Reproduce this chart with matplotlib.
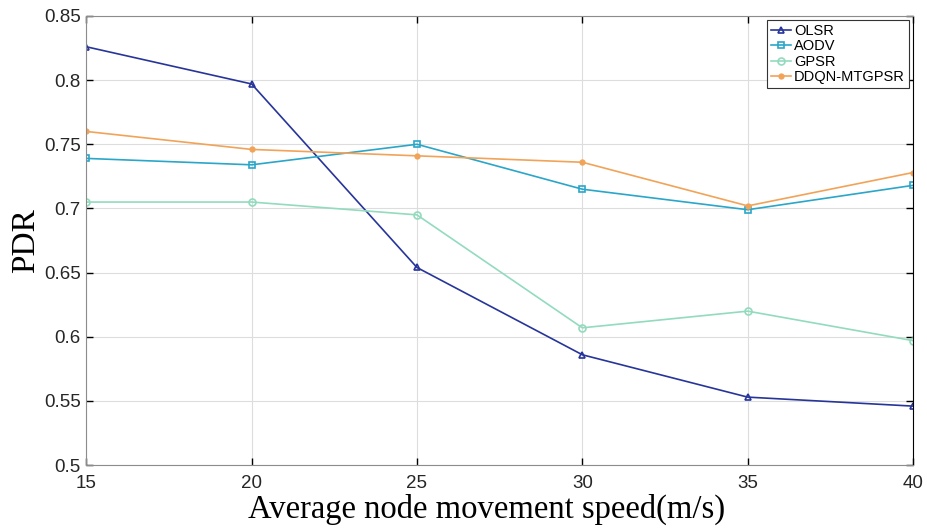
import numpy as np
import matplotlib.pyplot as plt

# PDR vs average node speed
speed = [15, 20, 25, 30, 35, 40]
olsr = [0.826, 0.797, 0.654, 0.586, 0.553, 0.546]
aodv = [0.739, 0.734, 0.750, 0.715, 0.699, 0.718]
gpsr = [0.705, 0.705, 0.695, 0.607, 0.620, 0.597]
ddqn = [0.760, 0.746, 0.741, 0.736, 0.702, 0.728]

plt.rcParams['font.family'] = ['Liberation Sans', 'DejaVu Sans']

fig = plt.figure(figsize=(9.27, 5.31), dpi=100)
ax = fig.add_axes([0.093, 0.124, 0.892, 0.846])

ax.plot(speed, olsr, '-^', color='#27359a', lw=1.2, ms=5, mfc='none', mew=1.2, label='OLSR')
ax.plot(speed, aodv, '-s', color='#2aa6c9', lw=1.2, ms=4.5, mfc='none', mew=1.2, label='AODV')
ax.plot(speed, gpsr, '-o', color='#92dbbe', lw=1.2, ms=5, mfc='none', mew=1.2, label='GPSR')
ax.plot(speed, ddqn, '-o', color='#f1a358', lw=1.2, ms=3.5, label='DDQN-MTGPSR')

ax.set_xlim(15, 40)
ax.set_ylim(0.5, 0.85)
ax.set_xticks(speed)
ax.set_yticks(np.arange(0.5, 0.851, 0.05))
ax.set_yticklabels(['0.5', '0.55', '0.6', '0.65', '0.7', '0.75', '0.8', '0.85'])
ax.grid(True, color='#dddddd', lw=0.8)
ax.set_axisbelow(True)
ax.tick_params(direction='in', top=True, right=True, labelsize=13.5,
               colors='black', labelcolor='#262626', length=5, width=1)
ax.tick_params(axis='y', pad=4)
ax.tick_params(axis='x', pad=7)
for s in ['left', 'bottom', 'top']:
    ax.spines[s].set_color('#8c8c8c')
ax.spines['right'].set_color('black')

ax.set_xlabel('Average node movement speed(m/s)', family='Liberation Serif', fontsize=23.5)
ax.xaxis.set_label_coords(0.484, -0.063)
ax.set_ylabel('PDR', family='Liberation Serif', fontsize=24, labelpad=2)

leg = ax.legend(loc='upper right', fontsize=10.5, fancybox=False, edgecolor='#333333',
                borderpad=0.25, handlelength=1.4, handletextpad=0.2, labelspacing=0.1,
                borderaxespad=0.3, framealpha=1)
leg.get_frame().set_linewidth(0.8)

fig.savefig('out.png', dpi=100)
